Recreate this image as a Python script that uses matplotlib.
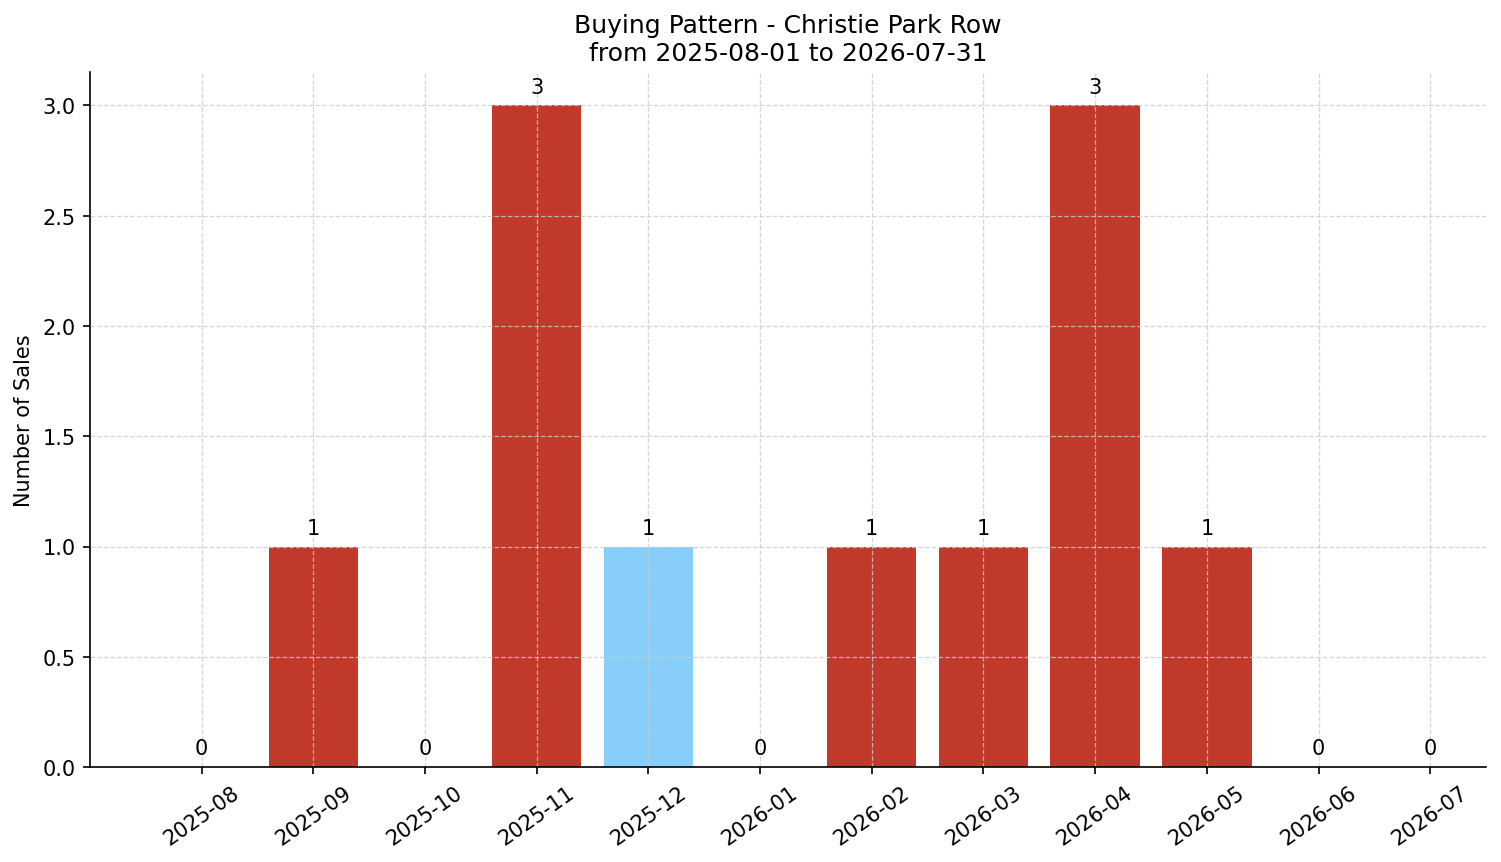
import matplotlib
matplotlib.use("Agg")
import matplotlib.pyplot as plt

months = ["2025-08","2025-09","2025-10","2025-11","2025-12","2026-01",
          "2026-02","2026-03","2026-04","2026-05","2026-06","2026-07"]
sales = [0,1,0,3,1,0,1,1,3,1,0,0]
highlight = "2025-12"
colors = ["#87CEFA" if m == highlight else "#C0392B" for m in months]

fig, ax = plt.subplots(figsize=(10.007, 5.753), dpi=150)
x = range(len(months))
bars = ax.bar(x, sales, color=colors, width=0.8)
for xi, v in zip(x, sales):
    ax.text(xi, v + 0.04, str(v), ha="center", va="bottom", fontsize=10)
ax.set_xticks(list(x))
ax.set_xticklabels(months, rotation=35)
ax.set_ylabel("Number of Sales")
ax.set_title("Buying Pattern - Christie Park Row\nfrom 2025-08-01 to 2026-07-31")
ax.set_ylim(0, 3.15)
ax.set_xlim(-1, 11.5)
ax.grid(True, linestyle="--", color="#cccccc", alpha=0.8, linewidth=0.6)
ax.spines["top"].set_visible(False)
ax.spines["right"].set_visible(False)
fig.subplots_adjust(left=0.06, right=0.99, top=0.915, bottom=0.11)
fig.savefig("out.png", dpi=150)
